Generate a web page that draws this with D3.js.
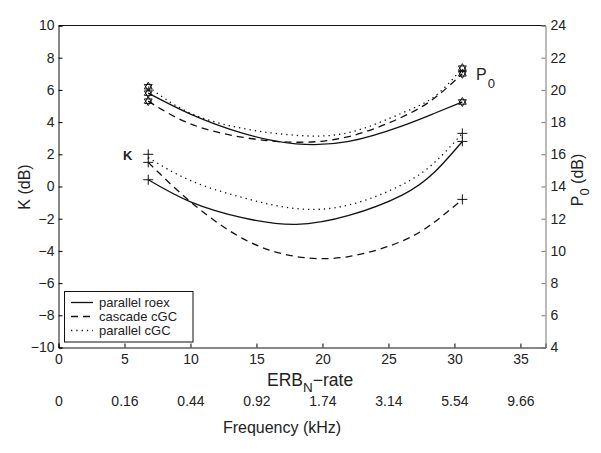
<!DOCTYPE html>
<html><head><meta charset="utf-8">
<script src="https://cdn.jsdelivr.net/npm/d3@7"></script>
<style>
body{margin:0;background:#fff;}
text{font-family:"Liberation Sans",Arial,sans-serif;fill:#222;}
</style></head>
<body><svg id="c" width="601" height="453"></svg>
<script>
// ---- data ----
const erbGrid = [6.8, 10, 14, 18, 22, 26, 28.5, 30.6];
// P0 curves (dB, right axis)
const p0Roex     = [19.8, 18.5, 17.3, 16.65, 16.8, 17.75, 18.55, 19.25];
const p0Cascade  = [19.3, 17.89, 17.05, 16.75, 17.1, 18.3, 19.5, 21.0];
const p0Parallel = [20.2, 18.55, 17.6, 17.18, 17.35, 18.55, 19.6, 21.35];
// K curves (dB, left axis)
const kRoex     = [0.42, -0.95, -1.95, -2.35, -1.8, -0.55, 0.9, 2.8];
const kCascade  = [1.5, -0.95, -3.25, -4.35, -4.35, -3.4, -2.2, -0.8];
const kParallel = [1.8, 0.37, -0.7, -1.37, -1.15, 0.1, 1.5, 3.3];
// end markers
const markerErb = [6.8, 30.6];
const p0Markers = [[20.2, 19.8, 19.3], [21.35, 21.0, 19.25]];
const kMarkers  = [[2.0, 1.5, 0.42], [3.3, 2.8, -0.8]];
// axes
const erbTicks = [0, 5, 10, 15, 20, 25, 30, 35];
const freqLabels = ["0", "0.16", "0.44", "0.92", "1.74", "3.14", "5.54", "9.66"];
const kTicks = [-10, -8, -6, -4, -2, 0, 2, 4, 6, 8, 10];
const p0Ticks = [4, 6, 8, 10, 12, 14, 16, 18, 20, 22, 24];
const legendLabels = ["parallel roex", "cascade cGC", "parallel cGC"];

// ---- layout ----
const L = 58.5, R = 545.5, T = 25.5, B = 347.5;
const svg = d3.select("#c");
const x = d3.scaleLinear().domain([0, 36.9]).range([L, R]);
const yK = d3.scaleLinear().domain([-10, 10]).range([B, T]);
const yP = d3.scaleLinear().domain([4, 24]).range([B, T]);

const styles = [
  {dash: null},
  {dash: "7,5"},
  {dash: "1.3,4"}
];

// frame
svg.append("line").attr("x1", L).attr("x2", R).attr("y1", T).attr("y2", T).attr("stroke", "#111").attr("stroke-width", 1);

// axes
const ax = svg.append("g").attr("transform", `translate(0,${B})`)
  .call(d3.axisBottom(x).tickValues(erbTicks).tickSize(-4).tickPadding(7));
ax.selectAll("text").style("font-size", "14px");
const ay = svg.append("g").attr("transform", `translate(${L},0)`)
  .call(d3.axisLeft(yK).tickValues(kTicks).tickSize(-4).tickPadding(4));
ay.selectAll("text").style("font-size", "14px");
const ar = svg.append("g").attr("transform", `translate(${R},0)`)
  .call(d3.axisRight(yP).tickValues(p0Ticks).tickSize(-4).tickPadding(5));
ar.selectAll("text").style("font-size", "14px");
ar.select(".domain").attr("stroke", "#777");
ar.selectAll(".tick line").attr("stroke", "#777");
[ax, ay, ar].forEach(g => g.selectAll("text").attr("fill", "#222").style("font-family", "Liberation Sans, Arial, sans-serif"));
ax.select(".domain").attr("stroke", "#111");
ay.select(".domain").attr("stroke", "#111");

// frequency row
const af = svg.append("g").attr("transform", `translate(0,396)`)
  .call(d3.axisBottom(x).tickValues(erbTicks).tickSize(0).tickPadding(0).tickFormat((d, i) => freqLabels[i]));
af.select(".domain").remove();
af.selectAll("text").style("font-size", "14px").attr("fill", "#222").style("font-family", "Liberation Sans, Arial, sans-serif");

// axis labels
const xl = svg.append("text").attr("x", 267).attr("y", 386).style("font-size", "17.5px");
xl.append("tspan").text("ERB");
xl.append("tspan").text("N").attr("dy", 6).style("font-size", "13.5px");
xl.append("tspan").text("\u2212rate").attr("dy", -6);
svg.append("text").attr("x", 282).attr("y", 433).attr("text-anchor", "middle").style("font-size", "16px").text("Frequency (kHz)");
svg.append("text").attr("transform", "translate(30,187) rotate(-90)").attr("text-anchor", "middle").style("font-size", "16px").text("K (dB)");
const pl = svg.append("text").attr("transform", "translate(583,180) rotate(-90)").attr("text-anchor", "middle").style("font-size", "16px");
pl.append("tspan").text("P");
pl.append("tspan").text("0").attr("dy", 6).style("font-size", "13px");
pl.append("tspan").text(" (dB)").attr("dy", -6);

// curve annotations
svg.append("text").attr("x", 123).attr("y", 160).style("font-size", "13px").style("font-weight", "bold").text("K");
const pa = svg.append("text").attr("x", 476).attr("y", 80).style("font-size", "16px");
pa.append("tspan").text("P");
pa.append("tspan").text("0").attr("dy", 8).style("font-size", "13px").attr("dx", 1);

// curves
const lineP = d3.line().x((d, i) => x(erbGrid[i])).y(d => yP(d)).curve(d3.curveNatural);
const lineK = d3.line().x((d, i) => x(erbGrid[i])).y(d => yK(d)).curve(d3.curveNatural);
const pSeries = [p0Roex, p0Cascade, p0Parallel];
const kSeries = [kRoex, kCascade, kParallel];
pSeries.forEach((s, i) => svg.append("path").attr("d", lineP(s)).attr("fill", "none")
  .attr("stroke", "#111").attr("stroke-width", 1.3).attr("stroke-dasharray", styles[i].dash));
kSeries.forEach((s, i) => svg.append("path").attr("d", lineK(s)).attr("fill", "none")
  .attr("stroke", "#111").attr("stroke-width", 1.3).attr("stroke-dasharray", styles[i].dash));

// markers
function hexagram(cx, cy, r) {
  const pts = a => d3.range(3).map(k => {
    const t = a + k * 2 * Math.PI / 3;
    return [cx + r * Math.sin(t), cy - r * Math.cos(t)];
  });
  return "M" + pts(0).join("L") + "Z M" + pts(Math.PI).join("L") + "Z";
}
markerErb.forEach((e, j) => {
  p0Markers[j].forEach(v => svg.append("path").attr("d", hexagram(x(e), yP(v), 4.5))
    .attr("fill", "none").attr("stroke", "#111").attr("stroke-width", 1));
  kMarkers[j].forEach(v => {
    const cx = x(e), cy = yK(v);
    svg.append("path").attr("d", `M${cx - 5},${cy}H${cx + 5}M${cx},${cy - 5}V${cy + 5}`)
      .attr("stroke", "#111").attr("stroke-width", 1);
  });
});

// legend
const lg = svg.append("g");
lg.append("rect").attr("x", 64.5).attr("y", 291.5).attr("width", 128.5).attr("height", 50.5)
  .attr("fill", "#fff").attr("stroke", "#111").attr("stroke-width", 1);
legendLabels.forEach((lab, i) => {
  const yy = 302.5 + i * 14;
  lg.append("line").attr("x1", 71).attr("x2", 93).attr("y1", yy).attr("y2", yy)
    .attr("stroke", "#111").attr("stroke-width", 1.3).attr("stroke-dasharray", styles[i].dash);
  lg.append("text").attr("x", 99).attr("y", yy + 4.5).style("font-size", "13px").text(lab);
});
</script></body></html>
